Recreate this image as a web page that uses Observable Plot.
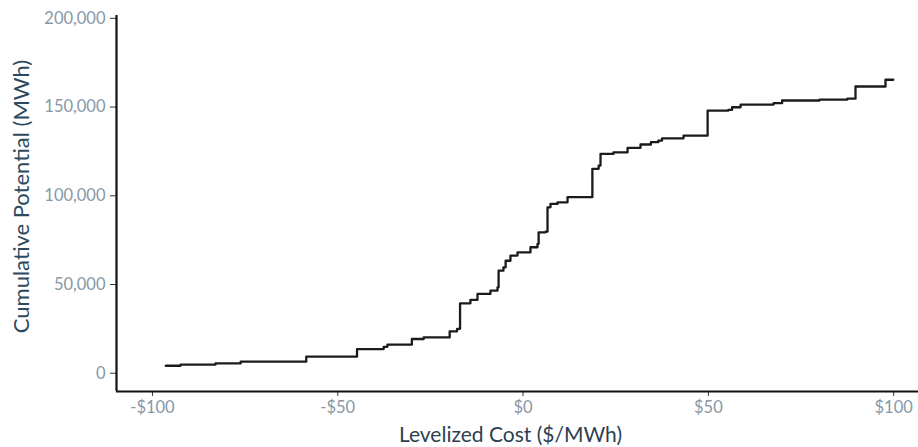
<!DOCTYPE html>
<html>
<head>
<meta charset="utf-8">
<script src="https://cdn.jsdelivr.net/npm/d3@7"></script>
<script src="https://cdn.jsdelivr.net/npm/@observablehq/plot@0.6"></script>
<style>
  html, body { margin: 0; padding: 0; background: #fff; }
  #chart svg { display: block; }
</style>
</head>
<body>
<div id="chart"></div>
<script>
// Levelized cost ($/MWh) at which each step begins
const cost = [
  -96.4, -92.4, -83.0, -76.2, -58.5, -44.8, -37.6, -36.6, -30.0, -26.8,
  -19.8, -17.8, -17.0, -14.2, -12.3, -8.8, -6.9, -6.6, -5.3, -4.7,
  -3.4, -1.5, 2.0, 3.9, 4.2, 6.1, 6.6, 7.4, 9.3, 12.0,
  18.7, 20.4, 20.9, 24.4, 28.2, 31.7, 34.5, 36.5, 37.5, 43.3,
  49.8, 55.4, 56.4, 58.7, 67.6, 69.9, 80.0, 87.5, 89.7, 97.8, 99.9
];
// Cumulative potential (MWh) reached at that cost
const potential = [
  4200, 4800, 5500, 6500, 9300, 13600, 14900, 16100, 19300, 20200,
  23600, 25000, 39400, 41300, 44700, 46500, 48400, 57800, 59700, 63400,
  66300, 68100, 71000, 72900, 79400, 79800, 93500, 95400, 96300, 99200,
  115200, 117000, 123600, 124500, 127000, 128900, 130200, 131100, 132400, 133900,
  148000, 148400, 149900, 151400, 152200, 153700, 154200, 154700, 161600, 165400, 165400
];
const xTicks = [-100, -50, 0, 50, 100];
const yTicks = [0, 50000, 100000, 150000, 200000];
const xTitle = "Levelized Cost ($/MWh)";
const yTitle = "Cumulative Potential (MWh)";

const data = cost.map((c, i) => ({cost: c, potential: potential[i]}));
const xDomain = [-109.7, 106.7];
const yDomain = [-10300, 201600];
const tickColor = "#8797a6";

const chart = Plot.plot({
  width: 918,
  height: 447,
  marginLeft: 116,
  marginRight: 0,
  marginTop: 15,
  marginBottom: 56,
  style: {fontFamily: "Lato, sans-serif", background: "#fff"},
  x: {domain: xDomain, axis: null},
  y: {domain: yDomain, axis: null},
  marks: [
    Plot.axisX(xTicks, {
      tickFormat: d => (d < 0 ? "-$" : "$") + Math.abs(d),
      tickSize: 5, tickPadding: 5, stroke: "#333", fill: tickColor,
      fontSize: 16.5, label: null
    }),
    Plot.axisY(yTicks, {
      tickFormat: d3.format(","),
      tickSize: 6, tickPadding: 5, stroke: "#333", fill: tickColor,
      fontSize: 16.5, label: null
    }),
    Plot.ruleY([yDomain[0]], {stroke: "#111", strokeWidth: 2.2}),
    Plot.ruleX([xDomain[0]], {stroke: "#111", strokeWidth: 2.2}),
    Plot.line(data, {
      x: "cost", y: "potential", curve: "step-after",
      stroke: "#1b1b1b", strokeWidth: 2.3
    }),
    Plot.text([xTitle], {
      frameAnchor: "bottom", dy: 44, dx: -7, fontSize: 21,
      fill: "#2d3f50", lineAnchor: "middle", textAnchor: "middle"
    }),
    Plot.text([yTitle], {
      frameAnchor: "left", dx: -95, dy: -7, rotate: -90, fontSize: 22,
      fill: "#2e4a5e", lineAnchor: "middle", textAnchor: "middle"
    })
  ]
});
document.getElementById("chart").appendChild(chart);
</script>
</body>
</html>
